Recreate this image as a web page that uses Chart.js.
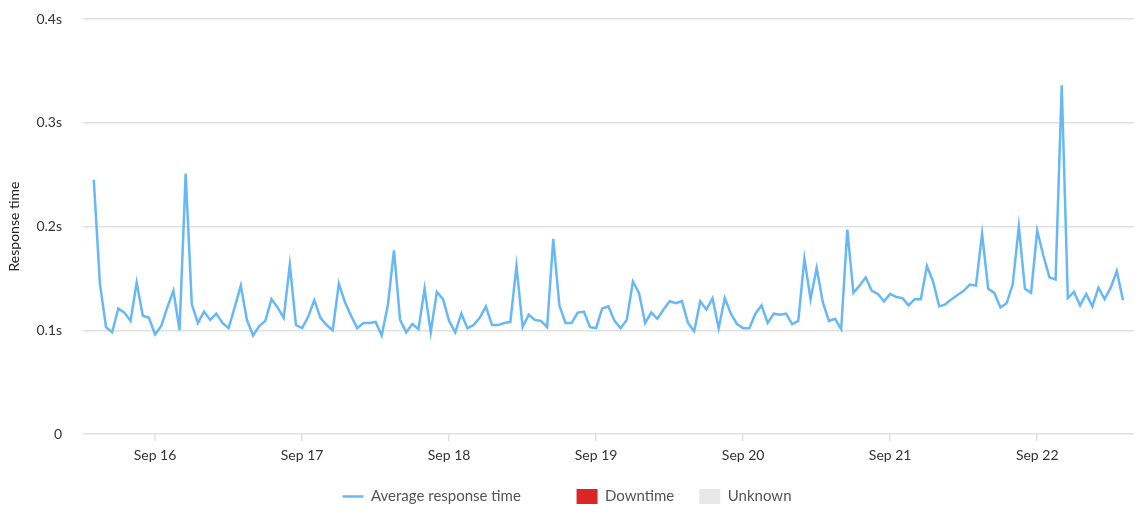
<!DOCTYPE html>
<html>
<head>
<meta charset="utf-8">
<script src="https://cdn.jsdelivr.net/npm/chart.js@4.4.1/dist/chart.umd.min.js"></script>
<style>
  html, body { margin: 0; padding: 0; background: #fff; }
  .chart-container { position: relative; width: 1141px; height: 514px; }
</style>
</head>
<body>
<div class="chart-container">
  <canvas id="chart"></canvas>
</div>
<script>
// hourly averages, first point Sep 15 14:00, last Sep 22 14:00
const responseTimes = [
  0.245, 0.145, 0.103, 0.098, 0.121, 0.117, 0.109, 0.146, 0.114, 0.112,
  0.096, 0.104, 0.122, 0.138, 0.100, 0.251, 0.125, 0.107, 0.118, 0.110,
  0.116, 0.107, 0.102, 0.122, 0.143, 0.110, 0.095, 0.104, 0.109, 0.130,
  0.122, 0.112, 0.163, 0.105, 0.102, 0.113, 0.129, 0.112, 0.105, 0.100,
  0.145, 0.127, 0.114, 0.102, 0.107, 0.107, 0.108, 0.095, 0.124, 0.177,
  0.110, 0.098, 0.106, 0.101, 0.140, 0.098, 0.137, 0.130, 0.109, 0.098,
  0.116, 0.102, 0.105, 0.112, 0.123, 0.105, 0.105, 0.107, 0.108, 0.162,
  0.103, 0.115, 0.110, 0.109, 0.103, 0.188, 0.124, 0.107, 0.107, 0.117,
  0.118, 0.103, 0.102, 0.121, 0.123, 0.109, 0.102, 0.110, 0.147, 0.136,
  0.107, 0.117, 0.111, 0.120, 0.128, 0.126, 0.128, 0.107, 0.099, 0.128,
  0.120, 0.131, 0.102, 0.131, 0.116, 0.106, 0.102, 0.102, 0.116, 0.124,
  0.107, 0.116, 0.115, 0.116, 0.106, 0.109, 0.169, 0.130, 0.160, 0.127,
  0.109, 0.111, 0.101, 0.197, 0.136, 0.143, 0.151, 0.138, 0.135, 0.128,
  0.135, 0.132, 0.131, 0.124, 0.130, 0.130, 0.162, 0.147, 0.123, 0.125,
  0.130, 0.134, 0.138, 0.144, 0.143, 0.193, 0.140, 0.136, 0.122, 0.126,
  0.144, 0.200, 0.140, 0.136, 0.196, 0.172, 0.151, 0.149, 0.336, 0.131,
  0.137, 0.124, 0.135, 0.123, 0.141, 0.130, 0.141, 0.157, 0.129
];
const dayLabels = ["Sep 16", "Sep 17", "Sep 18", "Sep 19", "Sep 20", "Sep 21", "Sep 22"];
const dayStartHours = [10, 34, 58, 82, 106, 130, 154]; // hours after first point
const yTickValues = [0, 0.1, 0.2, 0.3, 0.4];
const yTickLabels = ["0", "0.1s", "0.2s", "0.3s", "0.4s"];

const FONT = "Lato, 'Open Sans', sans-serif";
const lineColor = "#67b8f5";
const gridColor = "#e1e1e1";

const points = responseTimes.map((v, i) => ({ x: i, y: v }));

const ctx = document.getElementById("chart").getContext("2d");
new Chart(ctx, {
  type: "line",
  data: {
    datasets: [
      {
        label: "Average response time",
        data: points,
        borderColor: lineColor,
        borderWidth: 2.5,
        tension: 0,
        fill: false,
        pointRadius: 0,
        pointHoverRadius: 0,
        pointStyle: "line",
        pointBorderColor: lineColor,
        pointBorderWidth: 2.5
      },
      {
        label: "Downtime",
        data: [],
        pointStyle: "rect",
        backgroundColor: "#dc2626",
        pointBackgroundColor: "#dc2626",
        borderColor: "#dc2626",
        pointBorderWidth: 0
      },
      {
        label: "Unknown",
        data: [],
        pointStyle: "rect",
        backgroundColor: "#e8e8e8",
        pointBackgroundColor: "#e8e8e8",
        borderColor: "#e8e8e8",
        pointBorderWidth: 0
      }
    ]
  },
  options: {
    responsive: true,
    maintainAspectRatio: false,
    animation: false,
    layout: { padding: { top: 19, right: 7, bottom: 0, left: 0 } },
    plugins: {
      tooltip: { enabled: false },
      legend: {
        position: "bottom",
        labels: {
          usePointStyle: true,
          pointStyleWidth: 21,
          boxHeight: 15,
          padding: 25,
          color: "#555",
          font: { family: FONT, size: 15 },
          generateLabels: (c) => {
            const items = Chart.defaults.plugins.legend.labels.generateLabels(c);
            items[0].text += "        "; // wider gap after the line entry
            return items;
          }
        }
      }
    },
    scales: {
      x: {
        type: "linear",
        min: -1.76,
        max: 169.8,
        border: { display: false },
        grid: {
          drawOnChartArea: false,
          drawTicks: true,
          tickLength: 7,
          color: gridColor,
          lineWidth: 1.5
        },
        afterBuildTicks: (scale) => {
          scale.ticks = dayStartHours.map((h) => ({ value: h }));
        },
        ticks: {
          autoSkip: false,
          maxRotation: 0,
          padding: 6,
          color: "#333",
          font: { family: FONT, size: 14 },
          callback: (value) => {
            const k = dayStartHours.indexOf(value);
            return k >= 0 ? dayLabels[k] : "";
          }
        },
        afterFit: (scale) => { scale.height = 30; }
      },
      y: {
        min: 0,
        max: 0.4,
        border: { display: false },
        grid: {
          color: gridColor,
          lineWidth: 1.5,
          drawTicks: false
        },
        afterBuildTicks: (scale) => {
          scale.ticks = yTickValues.map((v) => ({ value: v }));
        },
        ticks: {
          padding: 21,
          color: "#333",
          font: { family: FONT, size: 14 },
          callback: (value) => {
            const k = yTickValues.findIndex((t) => Math.abs(t - value) < 1e-9);
            return k >= 0 ? yTickLabels[k] : "";
          }
        },
        title: {
          display: true,
          text: "Response time",
          color: "#222",
          padding: { top: 6, bottom: 0 },
          font: { family: FONT, size: 14 }
        },
        afterFit: (scale) => {
          scale.width = 83;
          scale.paddingTop = 0;
          scale.paddingBottom = 0;
        }
      }
    }
  }
});
</script>
</body>
</html>
